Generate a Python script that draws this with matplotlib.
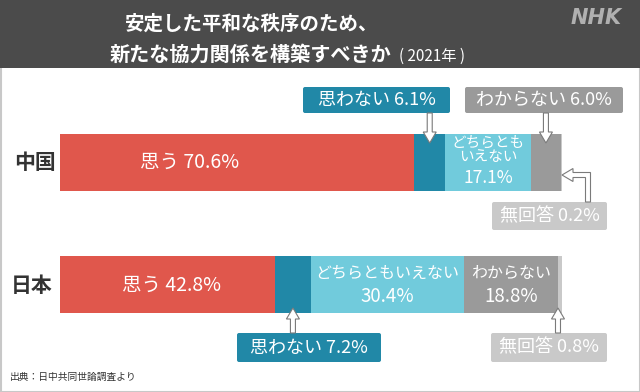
import matplotlib.pyplot as plt
from matplotlib.patches import FancyBboxPatch, Rectangle, Polygon

plt.rcParams['font.family'] = ['Noto Sans CJK JP', 'DejaVu Sans']

countries = ['中国', '日本']
answers = ['思う', '思わない', 'どちらともいえない', 'わからない', '無回答']
china = [70.6, 6.1, 17.1, 6.0, 0.2]
japan = [42.8, 7.2, 30.4, 18.8, 0.8]
colors = ['#e0574c', '#2188a7', '#71cbdc', '#9a9a9a', '#c9c9c9']

fig = plt.figure(figsize=(6.4, 3.92), dpi=100)


def pixel_axes(z):
    a = fig.add_axes([0, 0, 1, 1], zorder=z)
    a.set_xlim(0, 640)
    a.set_ylim(392, 0)
    a.axis('off')
    a.patch.set_alpha(0)
    return a


# background
bg = pixel_axes(0)
bg.add_patch(Rectangle((0.5, 0.5), 639, 391, fc='white', ec='#c8c8c8', lw=1.5))
bg.add_patch(Rectangle((0, 0), 640, 68, fc='#4b4b4b', ec='none'))

# bars: x in percent
ax = fig.add_axes([60 / 640, 0, 502 / 640, 1], zorder=1)
ax.set_xlim(0, 100)
ax.set_ylim(392, 0)
ax.axis('off')
ax.patch.set_alpha(0)

ys = [162, 284.5]
for y, vals in zip(ys, [china, japan]):
    left = 0
    for v, c in zip(vals, colors):
        ax.barh(y, v, left=left, height=57, color=c, edgecolor='none')
        left += v

# texts and callouts on top
top = pixel_axes(2)
top.text(252, 24, '安定した平和な秩序のため、', color='white', fontsize=14,
         fontweight='bold', ha='center', va='center')
top.text(250, 54, '新たな協力関係を構築すべきか', color='white', fontsize=14.5,
         fontweight='bold', ha='center', va='center')
top.text(432, 56, '( 2021年 )', color='white', fontsize=11, ha='center', va='center')
top.text(596, 18, 'NHK', color='#b0b0b0', fontsize=15, fontweight='bold',
         fontstyle='italic', family='DejaVu Sans', ha='center', va='center')
top.text(10, 377, '出典：日中共同世論調査より', color='#333333', fontsize=7, va='center')

top.text(35, 162, countries[0], fontsize=15, fontweight='bold', color='#333333', ha='center', va='center')
top.text(32, 285, countries[1], fontsize=15, fontweight='bold', color='#333333', ha='center', va='center')


def px(p):
    return 60 + p * 5.02


def cum(vals, i):
    return sum(vals[:i])


tkw = dict(color='white', ha='center', va='center')
top.text(190, 162, f'{answers[0]} {china[0]}%', fontsize=14, **tkw)
top.text(171, 285, f'{answers[0]} {japan[0]}%', fontsize=14, **tkw)
cx = px(cum(china, 2) + china[2] / 2)
top.text(cx, 150, 'どちらとも\nいえない', fontsize=10.5, linespacing=1.0, **tkw)
top.text(cx, 178, f'{china[2]}%', fontsize=12.5, **tkw)
jx = px(cum(japan, 2) + japan[2] / 2)
top.text(jx, 273, answers[2], fontsize=11.5, **tkw)
top.text(jx, 297, f'{japan[2]}%', fontsize=13.5, **tkw)
gx = px(cum(japan, 3) + japan[3] / 2)
top.text(gx, 273, answers[3], fontsize=11.5, **tkw)
top.text(gx, 297, f'{japan[3]}%', fontsize=13.5, **tkw)


def box(x0, y0, x1, y1, color, label):
    top.add_patch(FancyBboxPatch((x0, y0), x1 - x0, y1 - y0,
                                 boxstyle='round,pad=0,rounding_size=2',
                                 fc=color, ec='none', zorder=3))
    top.text((x0 + x1) / 2, (y0 + y1) / 2, label, fontsize=13, color='white',
             ha='center', va='center', zorder=4)


def arrow_v(x, y0, tip):
    s = 1 if tip > y0 else -1
    hb = tip - s * 11
    pts = [(x - 2.5, y0), (x + 2.5, y0), (x + 2.5, hb), (x + 6.5, hb), (x, tip),
           (x - 6.5, hb), (x - 2.5, hb)]
    top.add_patch(Polygon(pts, closed=True, fc='white', ec='#7a7a7a', lw=0.8, zorder=5))


# China annotations
box(303, 87, 450, 113, colors[1], f'{answers[1]} {china[1]}%')
arrow_v(px(cum(china, 1) + china[1] / 2), 113, 143)
box(465, 87, 623, 113, colors[3], f'{answers[3]} {china[3]}%')
arrow_v(px(cum(china, 3) + china[3] / 2), 113, 143)
box(492, 202, 607, 230, colors[4], f'{answers[4]} {china[4]}%')
tipx = px(100)
pts = [(585.5, 202), (590.5, 202), (590.5, 172.5), (tipx + 11, 172.5), (tipx + 11, 168.5),
       (tipx, 175), (tipx + 11, 181.5), (tipx + 11, 177.5), (585.5, 177.5)]
top.add_patch(Polygon(pts, closed=True, fc='white', ec='#7a7a7a', lw=0.8, zorder=5))

# Japan annotations
box(237, 333, 381, 362, colors[1], f'{answers[1]} {japan[1]}%')
arrow_v(px(cum(japan, 1) + japan[1] / 2), 333, 308)
box(491, 333, 607, 362, colors[4], f'{answers[4]} {japan[4]}%')
arrow_v(px(cum(japan, 4) + japan[4] / 2) - 2, 333, 308)

fig.savefig('out.png', dpi=100)
